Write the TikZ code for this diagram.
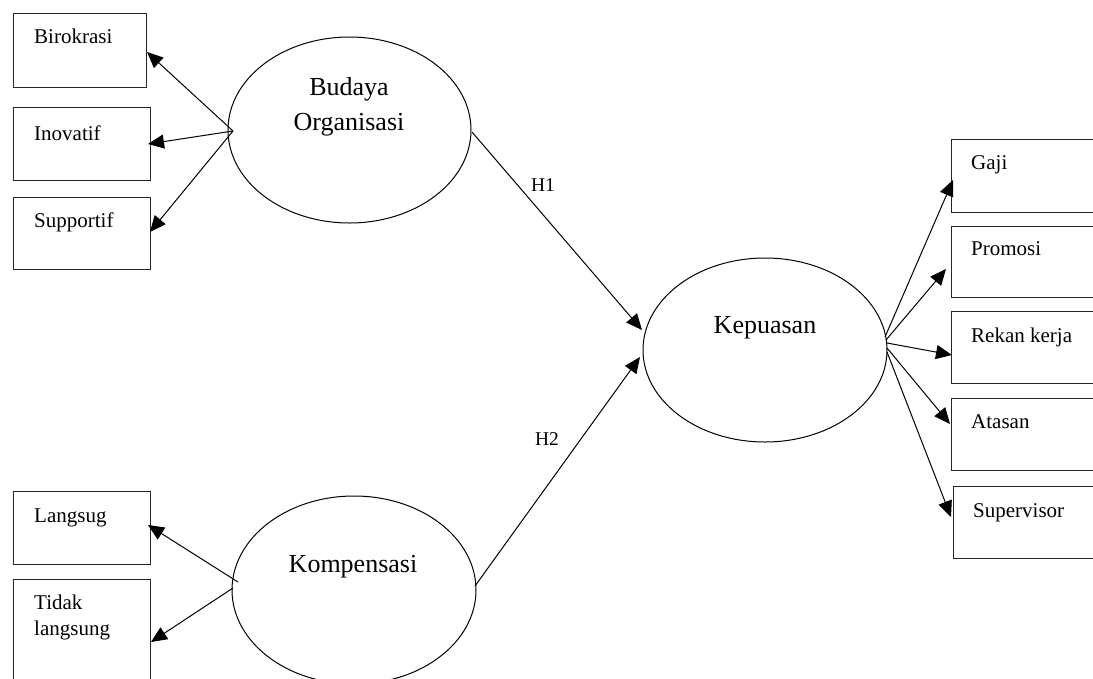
\documentclass[tikz,border=0pt]{standalone}
\usepackage{fontspec}
\setmainfont{Liberation Serif}
\usetikzlibrary{shapes.geometric,arrows.meta}
\tikzset{
  boxnode/.style={draw=black!85, line width=1pt, rectangle, anchor=north west, inner sep=0pt},
  latent/.style={draw, line width=1pt, ellipse, inner sep=0pt},
  smalltxt/.style={anchor=base west, inner sep=0pt, font=\fontsize{21}{26}\selectfont},
  bigtxt/.style={anchor=base, inner sep=0pt, font=\fontsize{26}{30}\selectfont},
  htxt/.style={anchor=base, inner sep=0pt, font=\fontsize{19.5}{22}\selectfont},
  conn/.style={line width=1pt, -{Triangle[length=16pt,width=14pt]}}
}
\begin{document}
\begin{tikzpicture}[x=1pt,y=-1pt]
\clip (0,0) rectangle (1093,678);
\fill[white] (0,0) rectangle (1093,678);

% left boxes
\node[boxnode, minimum width=133pt, minimum height=74pt] (b1) at (13,13) {};
\node[boxnode, minimum width=137pt, minimum height=73pt] (b2) at (13,107) {};
\node[boxnode, minimum width=137pt, minimum height=72pt] (b3) at (13,197) {};
\node[boxnode, minimum width=137pt, minimum height=73pt] (b4) at (13,491) {};
\node[boxnode, minimum width=137pt, minimum height=130pt] (b5) at (13,579) {};
\node[smalltxt] (t1) at (34,43) {Birokrasi};
\node[smalltxt] (t2) at (34,140) {Inovatif};
\node[smalltxt] (t3) at (34,227) {Supportif};
\node[smalltxt] (t4) at (34,522) {Langsug};
\node[smalltxt] (t5) at (34,609) {Tidak};
\node[smalltxt] (t5b) at (34,635) {langsung};

% right boxes
\node[boxnode, minimum width=200pt, minimum height=73pt] (r1) at (951,139) {};
\node[boxnode, minimum width=200pt, minimum height=71pt] (r2) at (951,226) {};
\node[boxnode, minimum width=200pt, minimum height=72pt] (r3) at (951,311) {};
\node[boxnode, minimum width=200pt, minimum height=72pt] (r4) at (951,398) {};
\node[boxnode, minimum width=200pt, minimum height=72pt] (r5) at (953,486) {};
\node[smalltxt] (s1) at (971,169) {Gaji};
\node[smalltxt] (s2) at (971,255) {Promosi};
\node[smalltxt] (s3) at (971,342) {Rekan kerja};
\node[smalltxt] (s4) at (971,428) {Atasan};
\node[smalltxt] (s5) at (973,517) {Supervisor};

% latent variables
\node[latent, minimum width=243pt, minimum height=186pt] (bo) at (349.5,130) {};
\node[latent, minimum width=244pt, minimum height=184pt] (kp) at (765,350) {};
\node[latent, minimum width=244pt, minimum height=188pt] (ko) at (354,590) {};
\node[bigtxt] (bot1) at (349,95) {Budaya};
\node[bigtxt] (bot2) at (349,130) {Organisasi};
\node[bigtxt] (kpt) at (765,333) {Kepuasan};
\node[bigtxt] (kot) at (353,572) {Kompensasi};

% connector points
\coordinate (bo-l) at (233,131);
\coordinate (bo-r) at (472,132);
\coordinate (ko-l1) at (238,582);
\coordinate (ko-l2) at (233,588);
\coordinate (ko-r) at (475,586);
\coordinate (kp-l1) at (642,330);
\coordinate (kp-l2) at (640,357);
\coordinate (kp-r1) at (885,337);
\coordinate (kp-r2) at (886,340);
\coordinate (kp-r3) at (887,343);
\coordinate (kp-r4) at (887,348);
\coordinate (kp-r5) at (887,352);
\coordinate (b1-t) at (147,52);
\coordinate (b2-t) at (148,144);
\coordinate (b3-t) at (150,232);
\coordinate (b4-t) at (148,525);
\coordinate (b5-t) at (151,642);
\coordinate (r1-t) at (953,180);
\coordinate (r2-t) at (946,269);
\coordinate (r3-t) at (952,355);
\coordinate (r4-t) at (950,424);
\coordinate (r5-t) at (951,517);

\draw[conn] (bo-l) -- (b1-t);
\draw[conn] (bo-l) -- (b2-t);
\draw[conn] (bo-l) -- (b3-t);
\draw[conn] (ko-l1) -- (b4-t);
\draw[conn] (ko-l2) -- (b5-t);
\draw[conn] (bo-r) -- (kp-l1);
\draw[conn] (ko-r) -- (kp-l2);
\draw[conn] (kp-r1) -- (r1-t);
\draw[conn] (kp-r2) -- (r2-t);
\draw[conn] (kp-r3) -- (r3-t);
\draw[conn] (kp-r4) -- (r4-t);
\draw[conn] (kp-r5) -- (r5-t);

\node[htxt] (h1) at (543,191) {H1};
\node[htxt] (h2) at (547,445) {H2};
\end{tikzpicture}
\end{document}
